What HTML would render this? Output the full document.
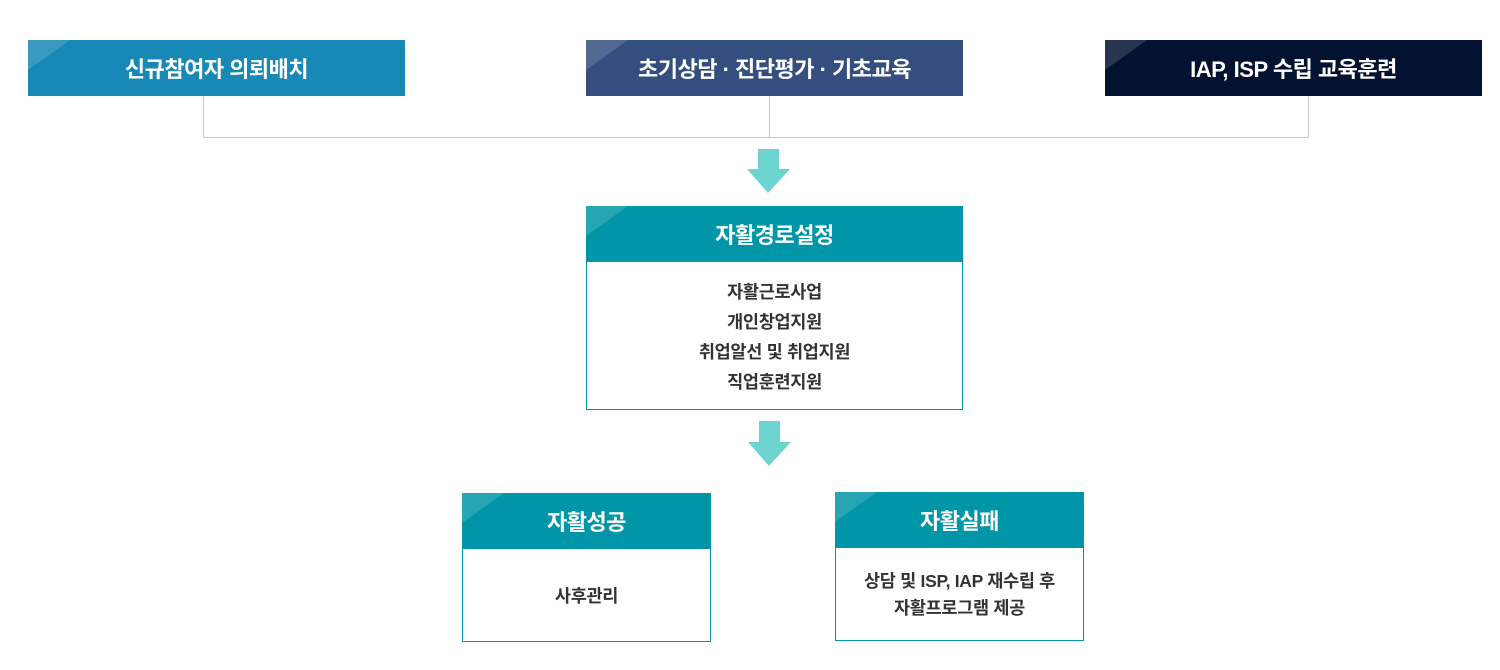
<!DOCTYPE html>
<html><head><meta charset="utf-8"><style>
*{margin:0;padding:0;box-sizing:border-box}
body{width:1500px;height:670px;background:#fff;position:relative;overflow:hidden;font-family:"Liberation Sans","Noto Sans CJK KR",sans-serif}
.b{position:absolute;color:#fff;font-weight:bold;font-size:22px;display:flex;align-items:center;justify-content:center;overflow:hidden;letter-spacing:-0.5px}
.b::before{content:"";position:absolute;left:0;top:0;width:0;height:0;border-top:30px solid rgba(255,255,255,0.15);border-right:42px solid transparent}
.b span{position:relative}
.l{position:absolute;background:#c8c8c8}
.box{position:absolute;border:1px solid #0096a8;background:#fff;color:#333;font-size:17.5px;font-weight:bold;text-align:center;display:flex;flex-direction:column;align-items:center;justify-content:center;line-height:30px;letter-spacing:-0.3px}
.t{background:#0096a8}
</style></head><body>
<div class="b" style="left:28px;top:40px;width:377px;height:56px;background:#1888b6"><span>신규참여자 의뢰배치</span></div>
<div class="b" style="left:586px;top:40px;width:377px;height:56px;background:#344f7f"><span>초기상담 · 진단평가 · 기초교육</span></div>
<div class="b" style="left:1105px;top:40px;width:377px;height:56px;background:#031230"><span>IAP, ISP 수립 교육훈련</span></div>
<div class="l" style="left:203px;top:96px;width:1px;height:42px"></div>
<div class="l" style="left:769px;top:96px;width:1px;height:42px"></div>
<div class="l" style="left:1308px;top:96px;width:1px;height:42px"></div>
<div class="l" style="left:203px;top:137px;width:1106px;height:1px"></div>
<svg style="position:absolute;left:0;top:0" width="1500" height="670">
<polygon points="758,149 779,149 779,169 790,169 768,193 747,169 758,169" fill="#6dd4d0"/>
<polygon points="759,421 780,421 780,442 791,442 769,466 748,442 759,442" fill="#6dd4d0"/>
</svg>
<div class="box" style="left:586px;top:206px;width:377px;height:204px;justify-content:flex-start;padding-top:70px">
<div>자활근로사업</div><div>개인창업지원</div><div>취업알선 및 취업지원</div><div>직업훈련지원</div></div>
<div class="b t" style="left:586px;top:206px;width:377px;height:56px"><span>자활경로설정</span></div>
<div class="box" style="left:462px;top:493px;width:249px;height:149px;padding-top:56px"><div>사후관리</div></div>
<div class="b t" style="left:462px;top:493px;width:249px;height:56px"><span>자활성공</span></div>
<div class="box" style="left:835px;top:492px;width:249px;height:149px;padding-top:56px;line-height:27px"><div>상담 및 ISP, IAP 재수립 후</div><div>자활프로그램 제공</div></div>
<div class="b t" style="left:835px;top:492px;width:249px;height:56px"><span>자활실패</span></div>
</body></html>
